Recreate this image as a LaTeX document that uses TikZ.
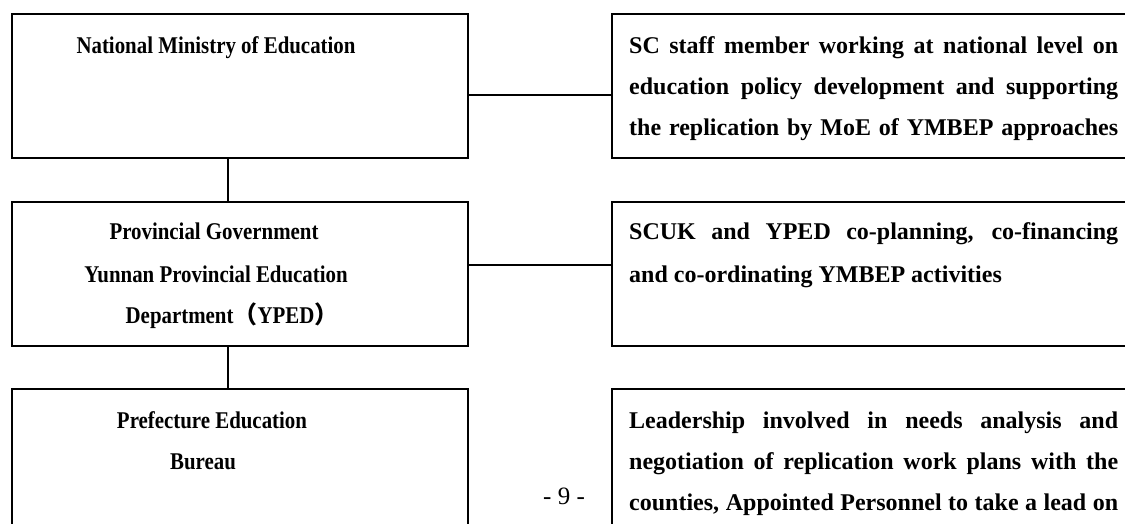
\documentclass[tikz,border=0pt]{standalone}
\usepackage{fontspec}
\setmainfont{Liberation Serif}
\newfontfamily\narrowfont[FakeStretch=0.87]{Liberation Serif}
\newfontfamily\cjk{Noto Sans CJK SC}
\begin{document}
\begin{tikzpicture}[x=1pt,y=-1pt,
  box/.style={draw=black,line width=1.8pt,minimum width=#1,minimum height=144pt,inner sep=0pt,anchor=north west},
  box/.default=456pt,
  link/.style={draw=black,line width=1.4pt},
  lt/.style={anchor=base,inner sep=0pt,font=\narrowfont\fontsize{24}{41}\selectfont\bfseries},
  rt/.style={anchor=base west,inner sep=0pt,font=\fontsize{24}{41}\selectfont\bfseries},
  pg/.style={anchor=base,inner sep=0pt,font=\fontsize{25}{41}\selectfont}]
\useasboundingbox (0,0) rectangle (1125,524);
\clip (0,0) rectangle (1125,524);
% boxes
\node[box] (L1) at (11,13) {};
\node[box] (L2) at (11,201) {};
\node[box] (L3) at (11,388) {};
\node[box=540pt] (R1) at (611,13) {};
\node[box=540pt] (R2) at (611,201) {};
\node[box=540pt] (R3) at (611,388) {};
% connectors
\draw[link] ([xshift=-12pt]L1.south) -- ([xshift=-12pt]L2.north);
\draw[link] ([xshift=-12pt]L2.south) -- ([xshift=-12pt]L3.north);
\draw[link] ([yshift=-9pt]L1.east) -- ([yshift=-9pt]R1.west);
\draw[link] ([yshift=9pt]L2.east) -- ([yshift=9pt]R2.west);
% left texts
\node[lt] (t1) at (216,54) {National Ministry of Education};
\node[lt] (t2a) at (214,240) {Provincial Government};
\node[lt] (t2b) at (216,282) {Yunnan Provincial Education};
\node[lt] (t2c) at (232,323) {Department{\cjk（}YPED{\cjk）}};
\node[lt] (t3a) at (212,428) {Prefecture Education};
\node[lt] (t3b) at (203,469) {Bureau};
% right texts
\node[rt] (r1a) at (629,54) {\makebox[489pt][s]{SC staff member working at national level on}};
\node[rt] (r1b) at (629,95) {\makebox[489pt][s]{education policy development and supporting}};
\node[rt] (r1c) at (629,136) {\makebox[489pt][s]{the replication by MoE of YMBEP approaches}};
\node[rt] (r2a) at (629,240) {\makebox[489pt][s]{SCUK and YPED co-planning, co-financing}};
\node[rt] (r2b) at (629,282) {and co-ordinating YMBEP activities};
\node[rt] (r3a) at (629,428) {\makebox[489pt][s]{Leadership involved in needs analysis and}};
\node[rt] (r3b) at (629,469) {\makebox[489pt][s]{negotiation of replication work plans with the}};
\node[rt] (r3c) at (629,510) {\makebox[489pt][s]{counties, Appointed Personnel to take a lead on}};
% page number
\node[pg] (page) at (564,504) {- 9 -};
\end{tikzpicture}
\end{document}
